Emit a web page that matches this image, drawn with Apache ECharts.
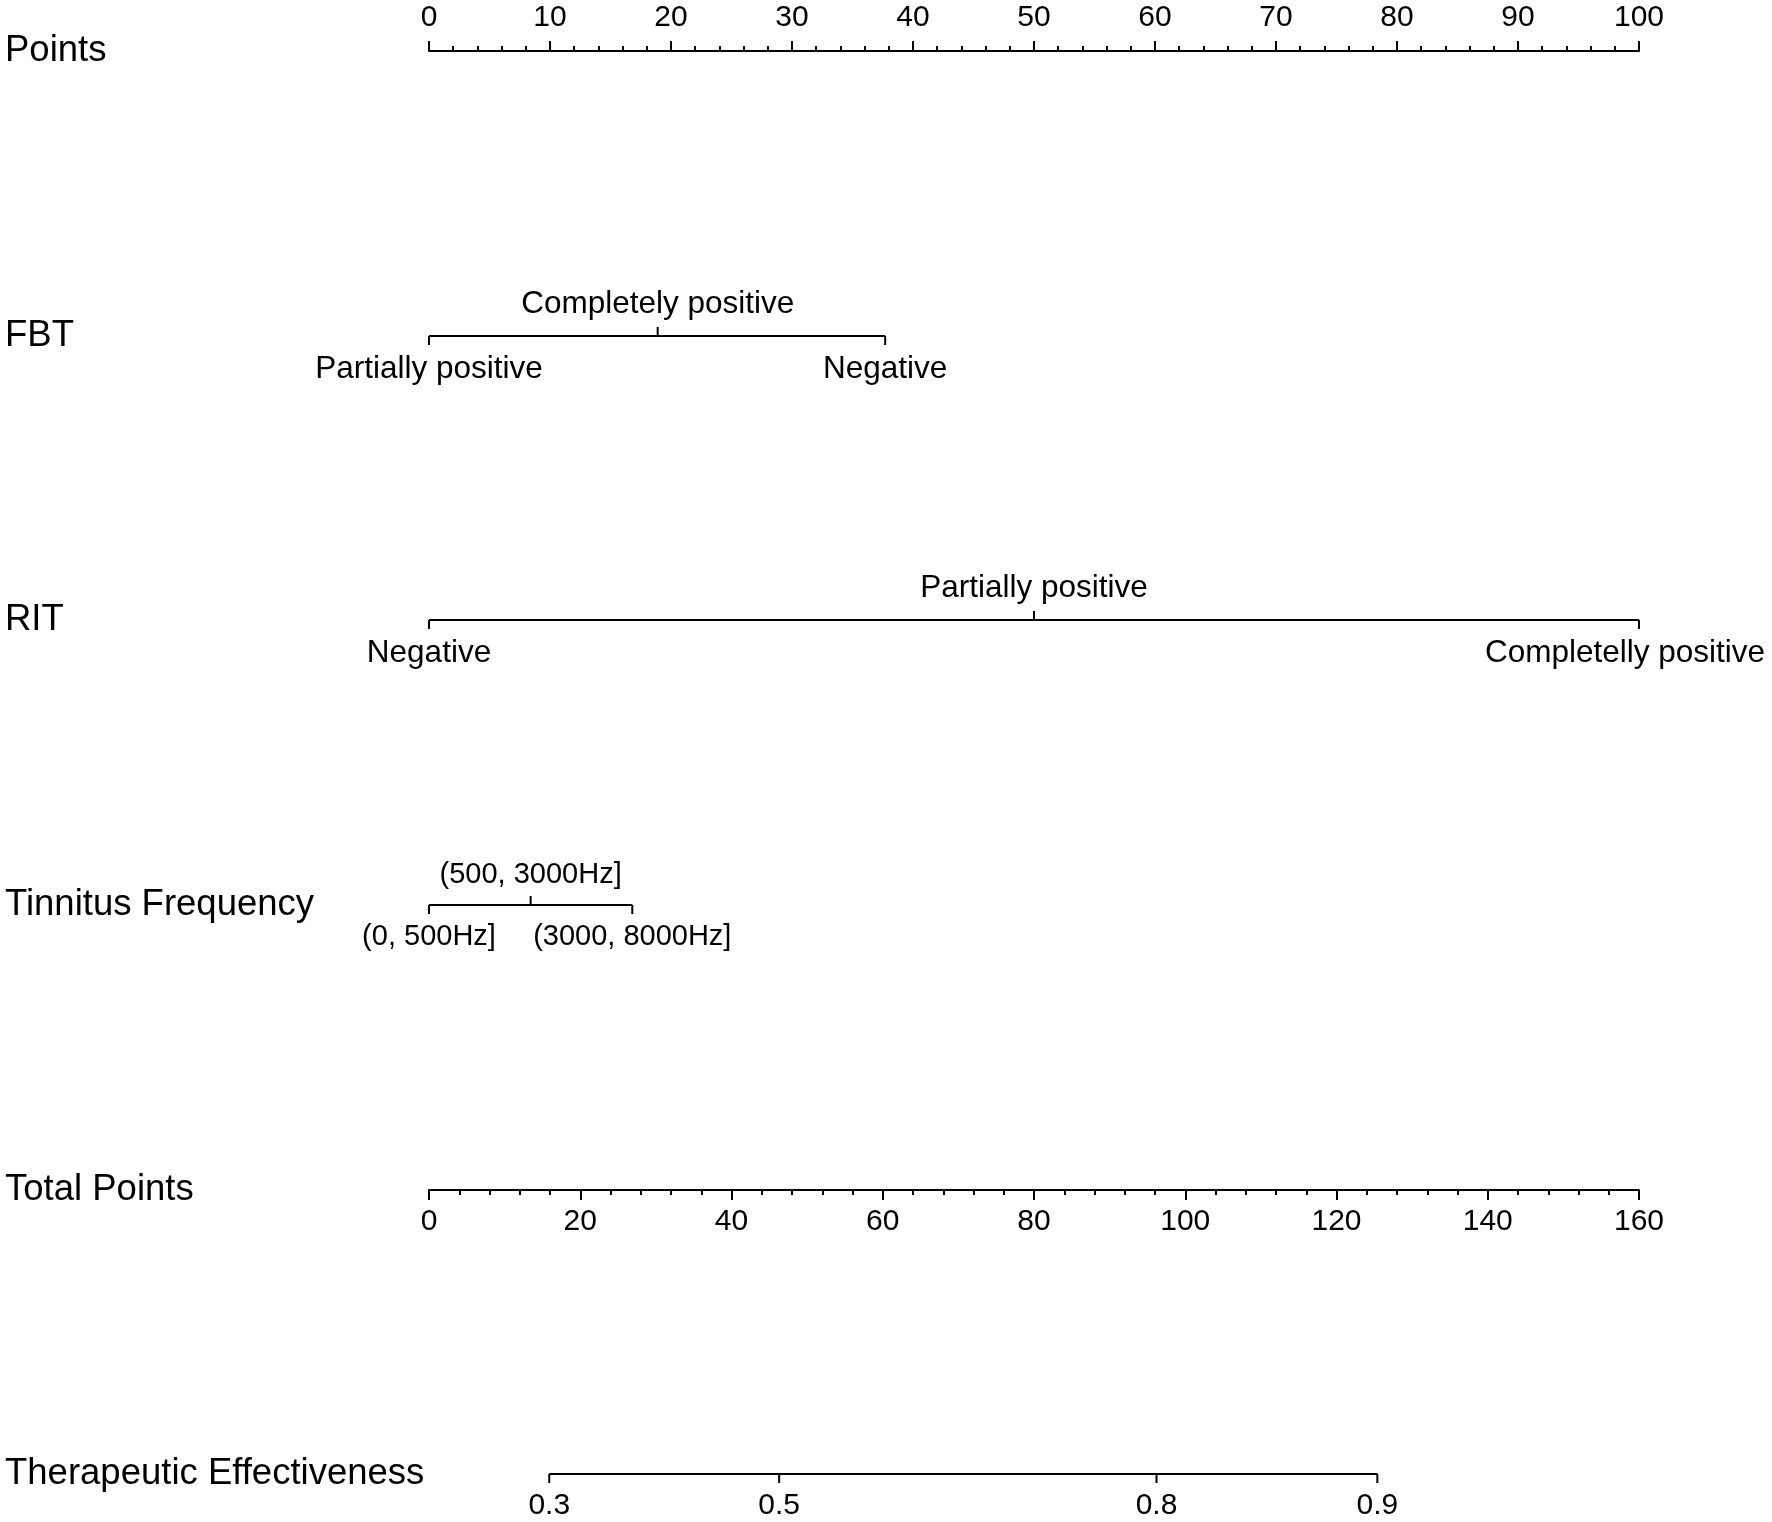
<!DOCTYPE html>
<html>
<head>
<meta charset="utf-8">
<title>Nomogram</title>
<script src="https://cdn.jsdelivr.net/npm/echarts@6.0.0/dist/echarts.min.js"></script>
<style>
    html, body { margin: 0; padding: 0; background: #fff; }
    #main { width: 1772px; height: 1522px; }
</style>
</head>
<body>
<div id="main"></div>
<script>
// 行名
let rowNames = ['Points', 'FBT', 'RIT', 'Tinnitus Frequency', 'Total Points', 'Therapeutic Effectiveness']

// 各变量的分类及其得分
let fbtLevels = ['Partially positive', 'Completely positive', 'Negative']
let fbtPoints = [0, 18.9, 37.7]
let ritLevels = ['Negative', 'Partially positive', 'Completelly positive']
let ritPoints = [0, 50, 100]
let tinnitusLevels = ['(0, 500Hz]', '(500, 3000Hz]', '(3000, 8000Hz]']
let tinnitusPoints = [0, 8.4, 16.8]

// 疗效概率刻度, 对应的总分
let effectLabels = ['0.3', '0.5', '0.8', '0.9']
let effectTotals = [15.9, 46.3, 96.2, 125.4]

// 轴范围
let pointsMax = 100
let totalMax = 160

let FONT = 'Liberation Sans, Arial, sans-serif'
let LEFT = 429
let WIDTH = 1210
let rowY = [51, 336, 620, 905, 1190, 1474] // 每一行的横线位置

let myChart = echarts.init(document.getElementById('main'))

let grids = []
let xAxes = []
let yAxes = []
let series = []

// 每一行一个grid, y轴 -1..1 , 0 即横线
function addGrid (y, place) {
    let top = place === 'top' ? y : (place === 'bottom' ? y - 20 : y - 10)
    grids.push({ left: LEFT, width: WIDTH, top: top, height: 20 })
    yAxes.push({ type: 'value', min: -1, max: 1, show: false, gridIndex: grids.length - 1 })
    return grids.length - 1
}

function axisStyle (max, interval, pos, minorSplit, margin) {
    return {
        type: 'value',
        min: 0,
        max: max,
        interval: interval,
        position: pos,
        axisLine: { show: true, onZero: false, lineStyle: { color: '#000', width: 2 } },
        axisTick: { show: true, length: 10, lineStyle: { color: '#000', width: 2 } },
        minorTick: { show: true, splitNumber: minorSplit, length: 5, lineStyle: { color: '#000', width: 2 } },
        axisLabel: { show: true, color: '#000', fontSize: 30, fontFamily: FONT, margin: margin },
        splitLine: { show: false },
        minorSplitLine: { show: false }
    }
}

// 分类/概率行: 横线 + 刻度 + 文字
function addRow (y, max, values, labels, fontSize, side) {
    let g = addGrid(y, 'mid')
    let ax = { type: 'value', min: 0, max: max, show: false, gridIndex: g }
    xAxes.push(ax)
    let idx = xAxes.length - 1
    series.push({
        type: 'line',
        xAxisIndex: idx,
        yAxisIndex: g,
        data: [[Math.min.apply(null, values), 0], [Math.max.apply(null, values), 0]],
        symbol: 'none',
        lineStyle: { color: '#000', width: 2 },
        silent: true
    })
    series.push({
        type: 'custom',
        xAxisIndex: idx,
        yAxisIndex: g,
        silent: true,
        data: values.map(function (v) { return [v, 0] }),
        renderItem: function (params, api) {
            let p = api.coord([api.value(0), 0])
            let i = params.dataIndex
            // 上下交替放文字
            let up = side ? side(i) : (i % 2 === 1)
            let dir = up ? -1 : 1
            let tx = p[0]
            let align = 'center'
            if (p[0] > api.getWidth() - 180) {
                tx = api.getWidth() - 7
                align = 'right'
            }
            return {
                type: 'group',
                children: [
                    {
                        type: 'line',
                        shape: { x1: p[0], y1: p[1], x2: p[0], y2: p[1] + dir * 9 },
                        style: { stroke: '#000', lineWidth: 2 }
                    },
                    {
                        type: 'text',
                        x: tx,
                        y: up ? p[1] - 16 : p[1] + 17,
                        style: {
                            text: labels[i],
                            fill: '#000',
                            fontSize: fontSize,
                            fontFamily: FONT,
                            align: align,
                            verticalAlign: up ? 'bottom' : 'top'
                        }
                    }
                ]
            }
        }
    })
}

// 1. Points 轴
let g0 = addGrid(rowY[0], 'top')
xAxes.push(Object.assign(axisStyle(pointsMax, 10, 'top', 5, 18), { gridIndex: g0 }))

// 2-4. 变量
addRow(rowY[1], pointsMax, fbtPoints, fbtLevels, 31.5)
addRow(rowY[2], pointsMax, ritPoints, ritLevels, 31.5)
addRow(rowY[3], pointsMax, tinnitusPoints, tinnitusLevels, 29)

// 5. Total Points 轴
let g4 = addGrid(rowY[4], 'bottom')
xAxes.push(Object.assign(axisStyle(totalMax, 20, 'bottom', 5, 17), { gridIndex: g4 }))

// 6. 疗效
addRow(rowY[5], totalMax, effectTotals, effectLabels, 30, function () { return false })

// 行名
let titles = rowNames.map(function (name, i) {
    return {
        type: 'text',
        x: 5,
        y: rowY[i],
        silent: true,
        style: { text: name, fill: '#000', fontSize: 36.5, fontFamily: FONT, verticalAlign: 'middle' }
    }
})

myChart.setOption({
    backgroundColor: '#fff',
    animation: false,
    grid: grids,
    xAxis: xAxes,
    yAxis: yAxes,
    series: series,
    graphic: titles
})
</script>
</body>
</html>
